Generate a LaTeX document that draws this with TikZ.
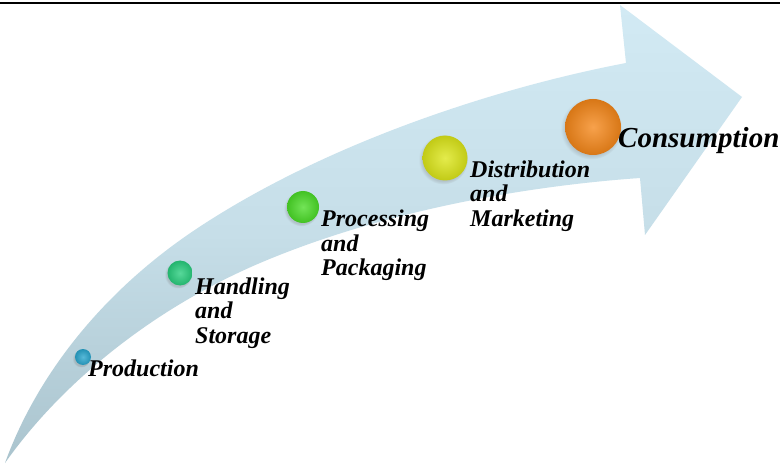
\documentclass[tikz,border=0pt]{standalone}
\usepackage{fontspec}
\setmainfont{Liberation Serif}
\usetikzlibrary{shadows}
\definecolor{arrowLight}{RGB}{210,234,244}
\definecolor{arrowMid}{RGB}{198,222,232}
\definecolor{arrowGray}{RGB}{170,196,206}
\definecolor{cProd}{RGB}{40,165,205}
\definecolor{cHand}{RGB}{40,205,125}
\definecolor{cProc}{RGB}{75,220,40}
\definecolor{cDist}{RGB}{220,230,25}
\definecolor{cCons}{RGB}{245,135,25}
\tikzset{
  stage/.style={circle, inner sep=0pt, shading=radial,
    inner color=#1!78!white, outer color=#1!88!black,
    circular drop shadow={shadow xshift=-1.5pt, shadow yshift=-1.5pt, opacity=0.3}},
  lbl/.style={inner sep=0pt, align=left, text=black,
    font=\fontsize{24}{24.5}\selectfont\bfseries\itshape},
}
\begin{document}
\begin{tikzpicture}[x=1pt,y=-1pt]
\useasboundingbox (0,0) rectangle (780,468);
\fill[white] (0,0) rectangle (780,468);
% rule along the top edge
\draw[line width=1.2pt] (0,3) -- (780,3);

% curved arrow body
\shade[top color=arrowLight, bottom color=arrowGray, middle color=arrowMid]
  (5,463) .. controls (35,380) and (100,290) .. (207,222)
          .. controls (335,140) and (500,87) .. (626,63)
  -- (620,5) -- (742,97) -- (645,235) -- (640,178)
          .. controls (540,185) and (392,207) .. (260,263)
          .. controls (150,310) and (60,385) .. (5,463)
  -- cycle;

% stages
\node[stage=cProd, minimum size=16pt] (prod) at (83,357) {};
\node[stage=cHand, minimum size=25pt] (hand) at (180,273) {};
\node[stage=cProc, minimum size=32pt] (proc) at (303,207) {};
\node[stage=cDist, minimum size=45pt] (dist) at (445,158) {};
\node[stage=cCons, minimum size=56pt] (cons) at (593,127) {};

% labels
\node[lbl, anchor=base west] (tprod) at (88,376) {Production};
\node[lbl, anchor=north west] (thand) at (195,277.5) {Handling\\and\\Storage};
\node[lbl, anchor=north west] (tproc) at (321,210) {Processing\\and\\Packaging};
\node[lbl, anchor=north west] (tdist) at (470,160.5) {Distribution\\and\\Marketing};
\node[lbl, anchor=base west, font=\fontsize{29}{30}\selectfont\bfseries\itshape] (tcons) at (618,148) {Consumption};
\end{tikzpicture}
\end{document}
